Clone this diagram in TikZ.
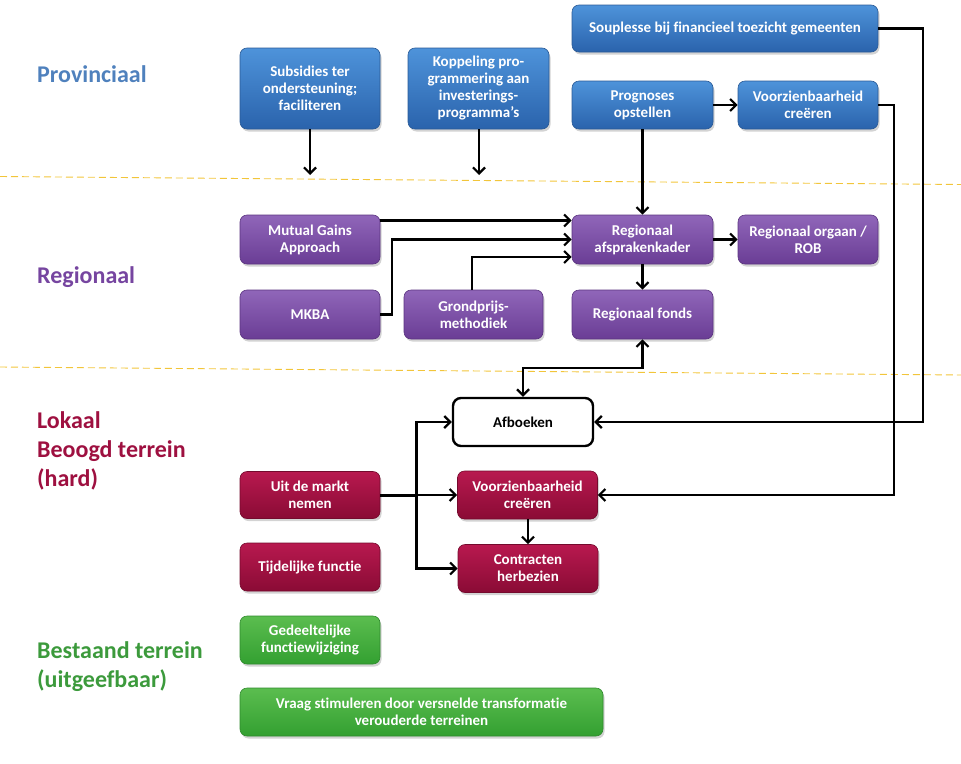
\documentclass[tikz,border=0pt]{standalone}
\usepackage{fontspec}
\setmainfont{Carlito}[Ligatures=NoCommon]
\usetikzlibrary{arrows.meta,shadows,calc}
\definecolor{hBlue}{HTML}{4F81BD}
\definecolor{hPurple}{HTML}{7645A0}
\definecolor{hRed}{HTML}{9E1040}
\definecolor{hGreen}{HTML}{3C9A3C}
\definecolor{bTop}{HTML}{4E93DA}
\definecolor{bBot}{HTML}{2A63AC}
\definecolor{bEdge}{HTML}{2A5A96}
\definecolor{pTop}{HTML}{9066B9}
\definecolor{pBot}{HTML}{6A3D95}
\definecolor{pEdge}{HTML}{5B3480}
\definecolor{rTop}{HTML}{B8194F}
\definecolor{rBot}{HTML}{8A0B35}
\definecolor{rEdge}{HTML}{740A2D}
\definecolor{gTop}{HTML}{5BBD4F}
\definecolor{gBot}{HTML}{33A031}
\definecolor{gEdge}{HTML}{2F8A2D}
\definecolor{sepLine}{HTML}{F2C53A}
\begin{document}
\begin{tikzpicture}[x=1pt,y=-1pt,
  box/.style={rounded corners=7pt, align=center, text=white, inner sep=2pt,
    font=\bfseries\fontsize{15}{17}\selectfont, line width=0.6pt,
    drop shadow={opacity=0.35,shadow xshift=1.5pt,shadow yshift=-2.5pt}},
  pbox/.style={box, top color=bTop, bottom color=bBot, draw=bEdge},
  rgbox/.style={box, top color=pTop, bottom color=pBot, draw=pEdge},
  lbox/.style={box, top color=rTop, bottom color=rBot, draw=rEdge},
  gbox/.style={box, top color=gTop, bottom color=gBot, draw=gEdge},
  wbox/.style={rounded corners=8pt, align=center, fill=white, draw=black, line width=2.4pt,
    font=\bfseries\fontsize{15}{17}\selectfont},
  head/.style={anchor=base west, align=left, inner sep=0pt, font=\bfseries\fontsize{24}{29}\selectfont},
  conn/.style={line width=2.2pt, -{Straight Barb[length=6pt,width=12pt]}},
  both/.style={line width=2.2pt, {Straight Barb[length=6pt,width=12pt]}-{Straight Barb[length=6pt,width=12pt]}},
  sep/.style={sepLine, line width=0.9pt, dash pattern=on 7pt off 4pt}
]
\useasboundingbox (0,0) rectangle (961,763);

% separators
\draw[sep] (0,176.5) -- (961,184.5);
\draw[sep] (0,367) -- (961,375);

% headings (base anchor = baseline of the last line)
\node[head, text=hBlue] (hprov) at (37,82) {Provinciaal};
\node[head, text=hPurple] (hreg) at (37,283) {Regionaal};
\node[head, text=hRed] (hlok) at (37,486) {Lokaal\\Beoogd terrein\\(hard)};
\node[head, text=hGreen] (hbest) at (37,687) {Bestaand terrein\\(uitgeefbaar)};

% provinciaal
\node[pbox, minimum width=306pt, minimum height=47pt] (soup) at (725,28.5) {Souplesse bij financieel toezicht gemeenten};
\node[pbox, minimum width=140pt, minimum height=81pt] (subs) at (310,88.5) {Subsidies ter\\ondersteuning;\\faciliteren};
\node[pbox, minimum width=141pt, minimum height=81pt] (kopp) at (478.5,88.5) {Koppeling pro-\\grammering aan\\investerings-\\programma’s};
\node[pbox, minimum width=141pt, minimum height=48pt] (prog) at (642.5,105) {Prognoses\\opstellen};
\node[pbox, minimum width=140pt, minimum height=48pt] (voorzB) at (808,105) {Voorzienbaarheid\\creëren};

% regionaal
\node[rgbox, minimum width=140pt, minimum height=49pt] (mga) at (310,239.5) {Mutual Gains\\Approach};
\node[rgbox, minimum width=141pt, minimum height=49pt] (kader) at (642.5,239.5) {Regionaal\\afsprakenkader};
\node[rgbox, minimum width=140pt, minimum height=49pt] (rob) at (808,239.5) {Regionaal orgaan /\\ROB};
\node[rgbox, minimum width=140pt, minimum height=49pt] (mkba) at (310,314.5) {MKBA};
\node[rgbox, minimum width=139pt, minimum height=49pt] (grond) at (473.5,314.5) {Grondprijs-\\methodiek};
\node[rgbox, minimum width=141pt, minimum height=49pt] (fonds) at (642.5,314.5) {Regionaal fonds};

% lokaal
\node[wbox, minimum width=140pt, minimum height=48pt] (afb) at (523,422) {Afboeken};
\node[lbox, minimum width=140pt, minimum height=47pt] (uit) at (310,495) {Uit de markt\\nemen};
\node[lbox, minimum width=140pt, minimum height=48pt] (voorzR) at (527.5,495) {Voorzienbaarheid\\creëren};
\node[lbox, minimum width=140pt, minimum height=48pt] (tijd) at (310,567) {Tijdelijke functie};
\node[lbox, minimum width=140pt, minimum height=48pt] (contr) at (528,568.5) {Contracten\\herbezien};

% bestaand
\node[gbox, minimum width=140pt, minimum height=48pt] (gedeel) at (310,640) {Gedeeltelijke\\functiewijziging};
\node[gbox, minimum width=363pt, minimum height=48pt] (vraag) at (421.5,712) {Vraag stimuleren door versnelde transformatie\\verouderde terreinen};

% connectors provinciaal
\coordinate (subsEnd) at (310,175);
\coordinate (koppEnd) at (479,175);
\draw[conn] (subs.south) -- (subsEnd);
\draw[conn] (kopp.south -| koppEnd) -- (koppEnd);
\draw[conn] (prog.east) -- (voorzB.west);
\draw[conn] (prog.south) -- (kader.north);
\draw[conn] (soup.east) -- (923,28.5) |- (afb.east);
\draw[conn] (voorzB.east) -- (894,105) |- (voorzR.east);

% connectors regionaal
\draw[conn] ($(mga.east)+(0,-19)$) -- ($(kader.west)+(0,-19)$);
\draw[conn] (mkba.east) -- (392,314.5) |- (kader.west);
\draw[conn] (grond.north -| 472,0) -- (472,257) -- ($(kader.west)+(0,17.5)$);
\draw[conn] (kader.east) -- (rob.west);
\draw[conn] (kader.south) -- (fonds.south |- fonds.north);
\draw[both] (fonds.south) -- (642.5,368) -| (afb.north);

% connectors lokaal
\coordinate (junc) at (416.5,495);
\draw[line width=3pt] (uit.east) -- (junc);
\draw[conn] (junc) |- (afb.west);
\draw[conn] (junc) -- (voorzR.west);
\draw[conn] (junc) |- (contr.west);
\draw[conn] (voorzR.south -| contr.north) -- (contr.north);
\end{tikzpicture}
\end{document}
